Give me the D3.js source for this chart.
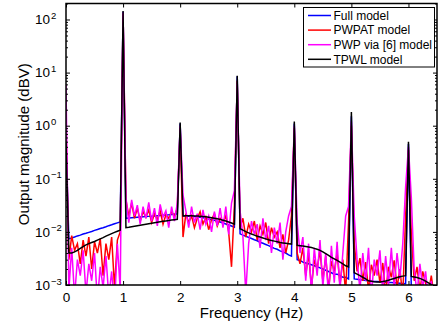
<!DOCTYPE html>
<html>
<head>
<meta charset="utf-8">
<script src="https://cdn.jsdelivr.net/npm/d3@7"></script>
<style>
  body { margin: 0; background: #fff; }
  svg { font-family: "Liberation Sans", Arial, sans-serif; display: block; }
</style>
</head>
<body>
<div id="chart"></div>
<script>
// spectrum sampled every 0.05 Hz, 0 .. 6.5 Hz (131 bins)
const binCount = 131;
const binWidth = 0.05;

const xTicks = [0, 1, 2, 3, 4, 5, 6];
const yDecades = [-3, -2, -1, 0, 1, 2];

const seriesNames = ['Full model', 'PWPAT model', 'PWP via [6] model', 'TPWL model'];
const seriesColors = ['#0000ff', '#ff0000', '#ff00ff', '#000000'];

// Full model
const fullModel = [
  0.5,
  0.0074, 0.0077, 0.0080, 0.0084, 0.0087, 0.0091, 0.0094, 0.0098, 0.0102, 0.0107, 0.0111, 0.0116, 0.0120, 0.0125, 0.0131, 0.0136, 0.0142, 0.0148, 0.0154,
  140,
  0.0180, 0.0182, 0.0184, 0.0186, 0.0188, 0.0190, 0.0192, 0.0194, 0.0196, 0.0198, 0.0200, 0.0202, 0.0204, 0.0206, 0.0208, 0.0210, 0.0213, 0.0216, 0.0219,
  1.1,
  0.0200, 0.0199, 0.0198, 0.0196, 0.0194, 0.0191, 0.0188, 0.0184, 0.0180, 0.0175, 0.0170, 0.0165, 0.0159, 0.0153, 0.0147, 0.0141, 0.0135, 0.0129, 0.0123,
  8.5,
  0.0092, 0.0087, 0.0083, 0.0079, 0.0075, 0.0071, 0.0068, 0.0064, 0.0061, 0.0058, 0.0055, 0.0052, 0.0049, 0.0047, 0.0044, 0.0042, 0.0040, 0.0037, 0.0035,
  1.1,
  0.0030, 0.0029, 0.0027, 0.0026, 0.0025, 0.0024, 0.0023, 0.0022, 0.0021, 0.0020, 0.0019, 0.0018, 0.0017, 0.0016, 0.0016, 0.0015, 0.0014, 0.0014, 0.0013,
  1.5,
  0.00130, 0.00128, 0.00126, 0.00124, 0.00122, 0.00120, 0.00118, 0.00117, 0.00116, 0.00115, 0.00114, 0.00113, 0.00112, 0.00111, 0.00110, 0.00109, 0.00108, 0.00107, 0.00106,
  0.45,
  0.00090, 0.00085, 0.00080, 0.00076, 0.00072, 0.00068, 0.00065, 0.00062, 0.00059, 0.00056
];

// PWPAT model
const pwpatModel = [
  1.0,
  0.0030, 0.0085, 0.0045, 0.0060, 0.0025, 0.0070, 0.0035, 0.0080, 0.0020, 0.0065, 0.0040, 0.0075, 0.0015, 0.0060, 0.0030, 0.0080, 0.0009, 0.0070, 0.0100,
  130,
  0.040, 0.020, 0.035, 0.018, 0.028, 0.016, 0.024, 0.019, 0.026, 0.015, 0.022, 0.017, 0.025, 0.014, 0.021, 0.018, 0.024, 0.020, 0.028,
  0.9,
  0.008, 0.022, 0.015, 0.020, 0.012, 0.018, 0.024, 0.014, 0.019, 0.011, 0.017, 0.022, 0.013, 0.018, 0.015, 0.020, 0.010, 0.0022, 0.030,
  7,
  0.012, 0.018, 0.008, 0.014, 0.010, 0.016, 0.007, 0.013, 0.009, 0.015, 0.006, 0.012, 0.008, 0.010, 0.005, 0.009, 0.004, 0.007, 0.020,
  0.9,
  0.004, 0.0025, 0.005, 0.0015, 0.004, 0.0009, 0.003, 0.0020, 0.0045, 0.0012, 0.0035, 0.0008, 0.0028, 0.0018, 0.004, 0.0010, 0.003, 0.0007, 0.015,
  1.0,
  0.006, 0.0018, 0.0032, 0.0012, 0.0027, 0.0008, 0.0024, 0.0015, 0.0030, 0.0011, 0.0026, 0.0007, 0.0022, 0.0014, 0.0029, 0.0009, 0.0020, 0.0006, 0.020,
  0.35,
  0.010, 0.0012, 0.0022, 0.0008, 0.0018, 0.0011, 0.0007, 0.0015, 0.0006, 0.0009
];

// PWP via [6] model
const pwpModel = [
  5.9,
  0.0008, 0.0050, 0.0006, 0.0030, 0.0015, 0.0045, 0.0007, 0.0025, 0.0012, 0.0040, 0.0005, 0.0022, 0.0009, 0.0035, 0.0006, 0.0018, 0.0004, 0.0060, 0.0008,
  135,
  0.045, 0.015, 0.040, 0.020, 0.032, 0.014, 0.030, 0.018, 0.036, 0.016, 0.028, 0.013, 0.033, 0.019, 0.025, 0.012, 0.030, 0.016, 0.035,
  1.0,
  0.050, 0.025, 0.012, 0.030, 0.015, 0.022, 0.011, 0.026, 0.014, 0.020, 0.010, 0.024, 0.013, 0.028, 0.012, 0.030, 0.009, 0.035, 0.060,
  6,
  0.025, 0.008, 0.0007, 0.006, 0.016, 0.009, 0.014, 0.005, 0.018, 0.007, 0.013, 0.004, 0.012, 0.006, 0.015, 0.003, 0.010, 0.020, 0.030,
  1.0,
  0.015, 0.004, 0.008, 0.0012, 0.006, 0.0007, 0.005, 0.0015, 0.007, 0.0009, 0.004, 0.0006, 0.0055, 0.0011, 0.0065, 0.0008, 0.004, 0.020, 0.030,
  1.2,
  0.020, 0.003, 0.0008, 0.004, 0.0012, 0.005, 0.0006, 0.003, 0.0015, 0.0045, 0.0007, 0.0035, 0.0010, 0.005, 0.0009, 0.004, 0.0013, 0.006, 0.070,
  0.4,
  0.045, 0.002, 0.0007, 0.0025, 0.0009, 0.0018, 0.0005, 0.0012, 0.0004, 0.0008
];

// TPWL model
const tpwlModel = [
  0.5,
  0.0040, 0.0040, 0.0042, 0.0045, 0.0049, 0.0053, 0.0057, 0.0060, 0.0063, 0.0066, 0.0070, 0.0074, 0.0078, 0.0083, 0.0088, 0.0093, 0.0098, 0.0103, 0.0108,
  145,
  0.0120, 0.0122, 0.0125, 0.0128, 0.0131, 0.0134, 0.0137, 0.0140, 0.0143, 0.0146, 0.0149, 0.0152, 0.0155, 0.0158, 0.0161, 0.0164, 0.0167, 0.0170, 0.0173,
  1.15,
  0.0200, 0.0201, 0.0201, 0.0201, 0.0200, 0.0199, 0.0197, 0.0195, 0.0192, 0.0189, 0.0185, 0.0181, 0.0177, 0.0172, 0.0166, 0.0160, 0.0154, 0.0147, 0.0140,
  8.7,
  0.0115, 0.0108, 0.0101, 0.0096, 0.0091, 0.0087, 0.0083, 0.0080, 0.0077, 0.0074, 0.0071, 0.0069, 0.0067, 0.0065, 0.0063, 0.0062, 0.0061, 0.0060, 0.0059,
  1.2,
  0.0056, 0.0055, 0.0054, 0.0053, 0.0052, 0.0051, 0.0049, 0.0047, 0.0045, 0.0042, 0.0039, 0.0036, 0.0033, 0.0031, 0.0029, 0.0027, 0.0025, 0.0023, 0.0022,
  1.8,
  0.0017, 0.0016, 0.0015, 0.0014, 0.0013, 0.0012, 0.00118, 0.00115, 0.00114, 0.00114, 0.00116, 0.00119, 0.00123, 0.00128, 0.00133, 0.00138, 0.00143, 0.00147, 0.00150,
  0.5,
  0.00145, 0.00142, 0.00138, 0.00133, 0.00126, 0.00118, 0.00110, 0.00102, 0.00095, 0.00088
];

const seriesValues = [fullModel, pwpatModel, pwpModel, tpwlModel];

const width = 443, height = 328;
const margin = {top: 3.5, right: 6, bottom: 43, left: 66};
const tickFont = 13.5, labelFont = 15, legendFont = 12;

const svg = d3.select('#chart').append('svg')
  .attr('width', width)
  .attr('height', height);

const x = d3.scaleLinear().domain([0, 6.5]).range([margin.left, width - margin.right]);
const y = d3.scaleLog().domain([1e-3, 200]).range([height - margin.bottom, margin.top]);

svg.append('defs').append('clipPath').attr('id', 'clip')
  .append('rect')
  .attr('x', margin.left).attr('y', margin.top)
  .attr('width', x.range()[1] - x.range()[0])
  .attr('height', y.range()[0] - y.range()[1]);

// data lines
const line = d3.line()
  .x((d, i) => x(i * binWidth))
  .y(d => y(d));

const plot = svg.append('g').attr('clip-path', 'url(#clip)');
seriesValues.forEach((vals, k) => {
  plot.append('path')
    .datum(vals.slice(0, binCount))
    .attr('fill', 'none')
    .attr('stroke', seriesColors[k])
    .attr('stroke-width', 1.5)
    .attr('stroke-linejoin', 'miter')
    .attr('d', line);
});

// ticks (MATLAB style, inside, on all four sides)
const minor = [];
yDecades.forEach(e => {
  for (let m = 2; m <= 9; m++) {
    const v = m * Math.pow(10, e);
    if (v <= 200) minor.push(v);
  }
});
const majorY = yDecades.map(e => Math.pow(10, e));

const xb = svg.append('g')
  .attr('transform', `translate(0,${y.range()[0]})`)
  .call(d3.axisBottom(x).tickValues(xTicks).tickSizeInner(-4).tickSizeOuter(0).tickPadding(7).tickFormat(d3.format('d')));
const xt = svg.append('g')
  .attr('transform', `translate(0,${y.range()[1]})`)
  .call(d3.axisTop(x).tickValues(xTicks).tickSizeInner(-4).tickSizeOuter(0).tickFormat(''));
const yl = svg.append('g')
  .attr('transform', `translate(${x.range()[0]},0)`)
  .call(d3.axisLeft(y).tickValues(majorY).tickSizeInner(-4).tickSizeOuter(0).tickFormat(''));
const yr = svg.append('g')
  .attr('transform', `translate(${x.range()[1]},0)`)
  .call(d3.axisRight(y).tickValues(majorY).tickSizeInner(-4).tickSizeOuter(0).tickFormat(''));
const ylm = svg.append('g')
  .attr('transform', `translate(${x.range()[0]},0)`)
  .call(d3.axisLeft(y).tickValues(minor).tickSizeInner(-2).tickSizeOuter(0).tickFormat(''));
const yrm = svg.append('g')
  .attr('transform', `translate(${x.range()[1]},0)`)
  .call(d3.axisRight(y).tickValues(minor).tickSizeInner(-2).tickSizeOuter(0).tickFormat(''));

[xb, xt, yl, yr, ylm, yrm].forEach(g => {
  g.select('.domain').remove();
  g.selectAll('line').attr('stroke', '#000').attr('stroke-width', 1);
});
xb.selectAll('text')
  .attr('font-size', tickFont)
  .attr('font-family', '"Liberation Sans", Arial, sans-serif')
  .attr('fill', '#000');

// y tick labels as 10^n
const yLab = svg.append('g');
yDecades.forEach(e => {
  const t = yLab.append('text')
    .attr('x', 35)
    .attr('y', y(Math.pow(10, e)))
    .attr('dy', '0.35em')
    .attr('font-size', tickFont);
  t.append('tspan').text('10');
  t.append('tspan')
    .attr('dy', '-0.55em')
    .attr('dx', '1')
    .attr('font-size', 9.5)
    .text(e < 0 ? '\u2212' + Math.abs(e) : String(e));
});

// axes box
svg.append('rect')
  .attr('x', x.range()[0]).attr('y', y.range()[1])
  .attr('width', x.range()[1] - x.range()[0])
  .attr('height', y.range()[0] - y.range()[1])
  .attr('fill', 'none')
  .attr('stroke', '#000')
  .attr('stroke-width', 1.5);

// axis labels
svg.append('text')
  .attr('x', (x.range()[0] + x.range()[1]) / 2)
  .attr('y', 317.5)
  .attr('text-anchor', 'middle')
  .attr('font-size', labelFont)
  .text('Frequency (Hz)');

svg.append('text')
  .attr('transform', `translate(29,${(y.range()[0] + y.range()[1]) / 2}) rotate(-90)`)
  .attr('text-anchor', 'middle')
  .attr('font-size', labelFont)
  .text('Output magnitude (dBV)');

// legend
const legend = svg.append('g');
legend.append('rect')
  .attr('x', 303.5).attr('y', 7.5)
  .attr('width', 131).attr('height', 59.5)
  .attr('fill', '#fff')
  .attr('stroke', '#000')
  .attr('stroke-width', 1);

seriesNames.forEach((name, k) => {
  const cy = 15.5 + k * 14.6;
  legend.append('line')
    .attr('x1', 308).attr('x2', 331)
    .attr('y1', cy).attr('y2', cy)
    .attr('stroke', seriesColors[k])
    .attr('stroke-width', 1.5);
  legend.append('text')
    .attr('x', 333.5).attr('y', cy)
    .attr('dy', '0.35em')
    .attr('font-size', legendFont)
    .text(name);
});
</script>
</body>
</html>
